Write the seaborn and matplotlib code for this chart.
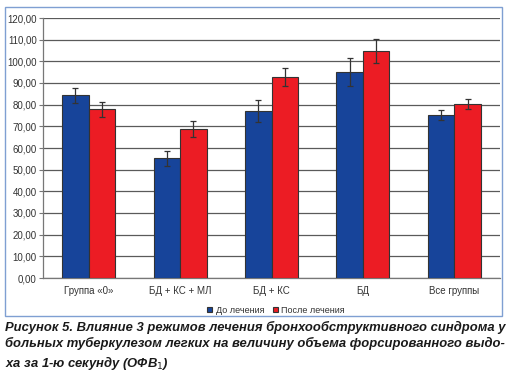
import matplotlib
matplotlib.use("Agg")
import matplotlib.pyplot as plt
import seaborn as sns
import pandas as pd
import numpy as np
from matplotlib.patches import Rectangle

categories = ["Группа «0»", "БД + КС + МЛ", "БД + КС", "БД", "Все группы"]
before = [84.3, 55.2, 77.0, 95.2, 75.1]
after = [77.8, 68.9, 92.7, 104.8, 80.4]
before_err = [3.3, 3.5, 5.0, 6.5, 2.4]
after_err = [3.3, 3.6, 4.3, 5.5, 2.3]
series = ["До лечения", "После лечения"]
yticks = [0, 10, 20, 30, 40, 50, 60, 70, 80, 90, 100, 110, 120]
caption = ("Рисунок 5. Влияние 3 режимов лечения бронхообструктивного синдрома у\n"
           "больных туберкулезом легких на величину объема форсированного выдо-\n"
           "ха за 1-ю секунду (ОФВ$_1$)")

sns.set_theme(style="white")
plt.rcParams['font.family'] = ['Liberation Sans', 'DejaVu Sans']

df = pd.DataFrame({
    "cat": categories * 2,
    "val": before + after,
    "err": before_err + after_err,
    "series": [series[0]] * 5 + [series[1]] * 5,
})

fig = plt.figure(figsize=(5.1, 3.75), dpi=100)
ax = fig.add_axes([43/510, (375-278)/375, (500-43)/510, (278-18)/375])

palette = {series[0]: "#17449a", series[1]: "#ec1c24"}
sns.barplot(data=df, x="cat", y="val", hue="series", palette=palette,
            order=categories, hue_order=series, errorbar=None, width=0.58,
            edgecolor="#333333", linewidth=0.8, saturation=1, ax=ax, zorder=3)

patches = [p for p in ax.patches if p.get_height() > 0][:10]
for p, (v, e) in zip(patches, zip(df["val"], df["err"])):
    cx = p.get_x() + p.get_width() / 2
    ax.errorbar(cx, p.get_height(), yerr=e, fmt="none", ecolor="#333333",
                elinewidth=0.9, capsize=2.2, capthick=0.9, zorder=4)

ax.set_ylim(0, 120)
ax.set_xlim(-0.5, 4.5)
ax.set_yticks(yticks)
ax.set_yticklabels([f"{t:.2f}".replace(".", ",") for t in yticks])
ax.yaxis.grid(True, color="#5a5a5a", linewidth=0.9, zorder=0)
ax.set_axisbelow(True)
ax.set_xlabel("")
ax.set_ylabel("")
for s in ["top", "right"]:
    ax.spines[s].set_visible(False)
ax.spines["left"].set_color("#777777")
ax.spines["bottom"].set_color("#777777")
ax.spines["left"].set_linewidth(0.9)
ax.spines["bottom"].set_linewidth(0.9)
ax.tick_params(axis="y", labelsize=7, colors="#333333", length=3, width=0.8,
               left=True, pad=1.5, color="#777777")
ax.tick_params(axis="x", labelsize=7, colors="#333333", length=0, pad=6)
ax.set_xticks(np.arange(-0.5, 5.0, 1.0), minor=True)
ax.tick_params(axis="x", which="minor", length=3, width=0.8, color="#777777")

leg = ax.legend(loc="upper center", bbox_to_anchor=(0.51, -0.075), ncol=2,
                frameon=False, fontsize=6.5, handlelength=0.55, handleheight=0.55,
                handletextpad=0.4, columnspacing=0.9)
for t in leg.get_texts():
    t.set_color("#333333")

fig.patches.append(Rectangle((5/510, (375-316)/375), 497/510, 309/375,
                             transform=fig.transFigure, fill=False,
                             edgecolor="#7f9fd2", linewidth=1.0))

fig.text(5/510, (375-321)/375, caption, ha="left", va="top", fontsize=9.35,
         fontweight="bold", fontstyle="italic", color="#1a1a1a", linespacing=1.3)

fig.savefig("out.png", dpi=100)
